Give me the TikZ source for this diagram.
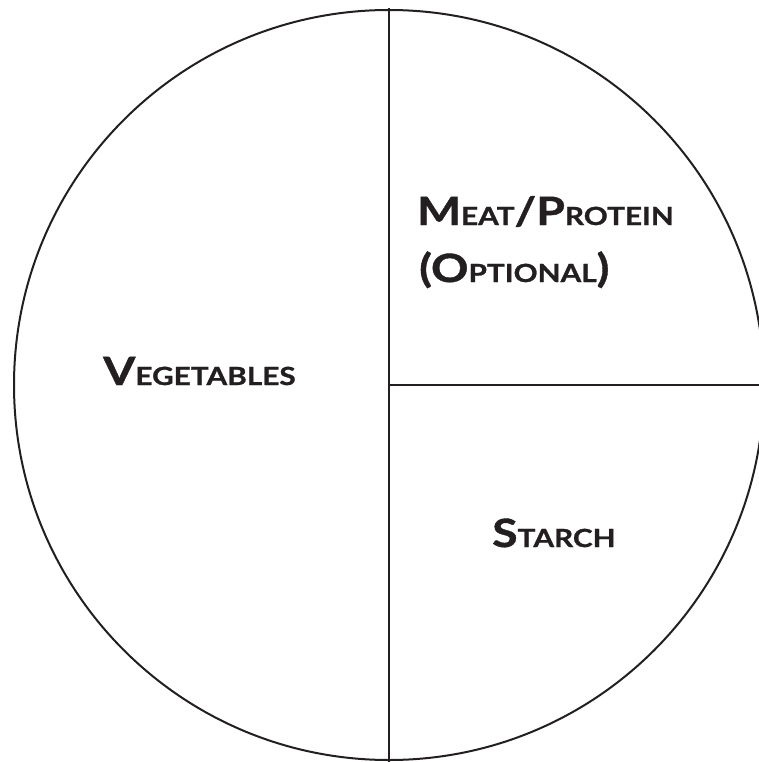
\documentclass[tikz,border=0pt]{standalone}
\usepackage{fontspec}
\setmainfont{Lato}[UprightFont=* Bold, FakeStretch=1.19, FakeBold=1]
\definecolor{ink}{HTML}{231F20}
\newcommand\bigc[1]{{\fontsize{39}{39}\selectfont #1}}
\newcommand\smc[1]{{\fontsize{25}{25}\selectfont #1}}
\begin{document}
\begin{tikzpicture}[x=1pt,y=-1pt,
  plate/.style={line width=2pt, draw=ink},
  lbl/.style={anchor=base west, inner sep=0pt, text=ink}]
\useasboundingbox (0,0) rectangle (759,762);
\coordinate (c) at (389,385);
\draw[plate] (c) circle[radius=375];
\coordinate (top) at (389,8);
\coordinate (bot) at (389,762);
\coordinate (right) at (759,385);
\draw[plate] (top) -- (bot);
\draw[plate] (c) -- (right);
\node[lbl] (veg) at (103,385) {\bigc{V}\smc{EGETABLES}};
\node[lbl] (meat) at (417,225) {\bigc{M}\smc{EAT}\bigc{/P}\smc{ROTEIN}};
\node[lbl] (opt) at (419,282) {\bigc{(O}\smc{PTIONAL}\bigc{)}};
\node[lbl] (starch) at (492,547) {\bigc{S}\smc{TARCH}};
\end{tikzpicture}
\end{document}
